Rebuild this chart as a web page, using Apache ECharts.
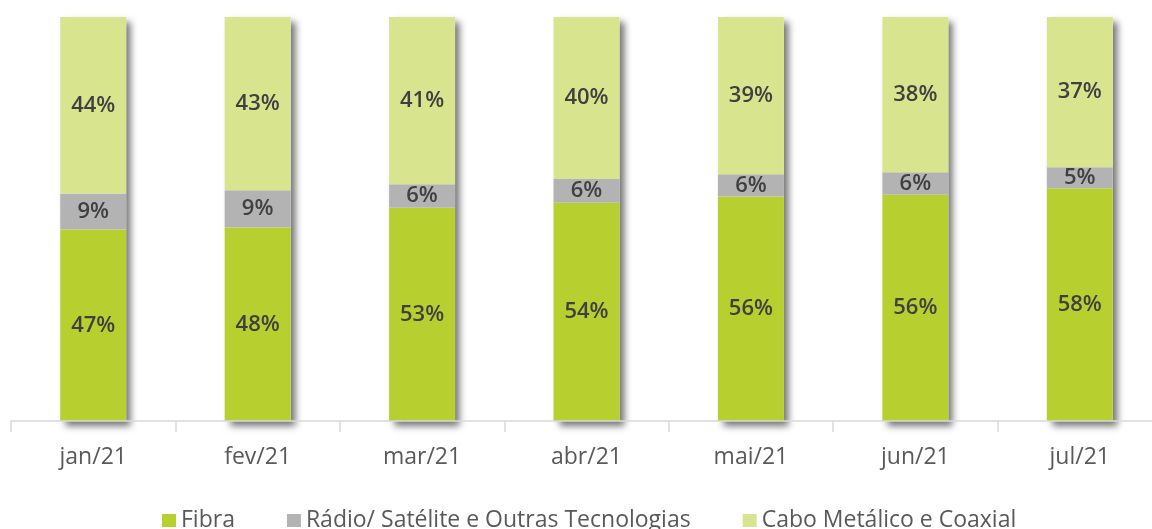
<!DOCTYPE html>
<html>
<head>
<meta charset="utf-8">
<script src="https://cdn.jsdelivr.net/npm/echarts@6/dist/echarts.min.js"></script>
<style>
html,body{margin:0;padding:0;background:#fff;}
#c{width:1152px;height:529px;}
</style>
</head>
<body>
<div id="c"></div>
<script>
const categories = ['jan/21','fev/21','mar/21','abr/21','mai/21','jun/21','jul/21'];
const fibra = [47.4, 47.9, 52.8, 54.0, 55.6, 56.0, 57.6];
const radio = [8.9, 9.2, 5.8, 5.9, 5.5, 5.6, 5.2];
const cabo = [43.7, 42.9, 41.4, 40.1, 38.9, 38.4, 37.2];
const seriesNames = ['Fibra', 'Rádio/ Satélite e Outras Tecnologias', 'Cabo Metálico e Coaxial'];
const colors = ['#b7d02f', '#b3b3b3', '#d8e58e'];

const totals = categories.map((_, i) => fibra[i] + radio[i] + cabo[i]);

const chart = echarts.init(document.getElementById('c'));
const labelStyle = {
  show: true,
  position: 'inside',
  formatter: p => Math.round(p.value) + '%',
  color: '#404040',
  fontFamily: 'Open Sans',
  fontWeight: 600,
  fontSize: 22
};
function mk(name, data, color) {
  return {
    name: name,
    type: 'bar',
    stack: 'total',
    barWidth: 66,
    barGap: '-100%',
    z: 3,
    data: data,
    itemStyle: { color: color },
    label: labelStyle
  };
}
chart.setOption({
  animation: false,
  color: colors,
  grid: { left: 11, width: 1151, top: 17, height: 404, containLabel: false, outerBoundsMode: 'none' },
  legend: {
    top: 504,
    left: 157,
    itemWidth: 14,
    itemHeight: 13,
    itemGap: 52,
    icon: 'rect',
    textStyle: { color: '#595959', fontSize: 23, fontFamily: 'Open Sans' },
    data: seriesNames
  },
  xAxis: {
    type: 'category',
    data: categories,
    z: 4,
    axisLine: { lineStyle: { color: '#d9d9d9', width: 1.5 } },
    axisTick: { show: true, length: 11, lineStyle: { color: '#d9d9d9', width: 1.5 } },
    axisLabel: { color: '#595959', fontSize: 23, fontFamily: 'Open Sans', margin: 25 }
  },
  yAxis: {
    type: 'value',
    min: 0,
    max: 100,
    show: false,
    splitLine: { show: false }
  },
  series: [
    {
      name: 'shadow',
      type: 'bar',
      barWidth: 66,
      barGap: '-100%',
      z: 1,
      silent: true,
      data: totals,
      itemStyle: {
        color: '#ffffff',
        shadowColor: 'rgba(0,0,0,0.55)',
        shadowBlur: 7,
        shadowOffsetX: 5,
        shadowOffsetY: 5
      },
      label: { show: false }
    },
    mk(seriesNames[0], fibra, colors[0]),
    mk(seriesNames[1], radio, colors[1]),
    mk(seriesNames[2], cabo, colors[2])
  ]
});
</script>
</body>
</html>
